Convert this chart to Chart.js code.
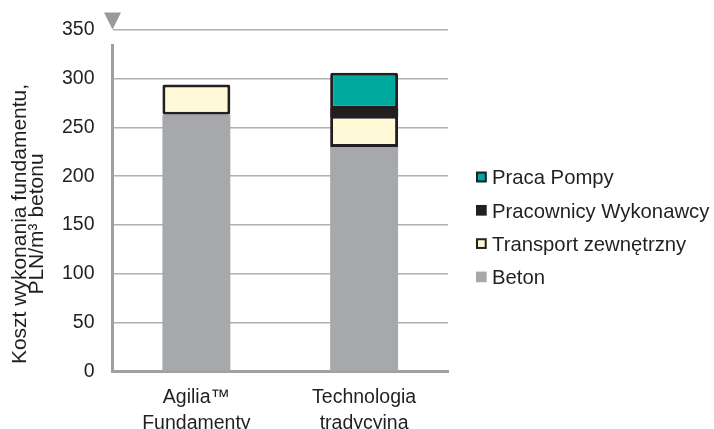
<!DOCTYPE html>
<html lang="pl">
<head>
    <meta charset="UTF-8">
    <title>Koszt wykonania fundamentu</title>
    <script src="https://cdn.jsdelivr.net/npm/chart.js"></script>
    <style>
        html, body {
            margin: 0;
            padding: 0;
            background: #fff;
        }
        #chart-container {
            width: 714px;
            height: 429px;
        }
    </style>
</head>
<body>

    <div id="chart-container">
        <canvas id="kosztChart"></canvas>
    </div>

    <script>
        // Dane
        const kategorie = [['Agilia™', 'Fundamenty'], ['Technologia', 'tradycyjna']];
        const beton = [263, 230];
        const transport = [31, 32];
        const pracownicy = [null, 7];
        const pompa = [null, 37];
        const tytulOsiY = ['Koszt wykonania fundamentu,', 'PLN/m³ betonu'];

        const FONT = "'Liberation Sans', Arial, sans-serif";
        const TEXT = '#231f20';
        const OBRYS = '#231f20';

        // legenda, tytul osi Y i os Y z trojkatem rysowane recznie
        const dodatki = {
            id: 'dodatki',
            afterDraw(chart) {
                const ctx = chart.ctx;
                const area = chart.chartArea;
                ctx.save();

                // os Y
                ctx.strokeStyle = '#a0a0a1';
                ctx.lineWidth = 3;
                ctx.beginPath();
                ctx.moveTo(area.left, 44);
                ctx.lineTo(area.left, area.bottom);
                ctx.stroke();

                // trojkat na gorze osi
                ctx.fillStyle = '#9a9a9c';
                ctx.beginPath();
                ctx.moveTo(area.left - 8.5, 12.5);
                ctx.lineTo(area.left + 8.5, 12.5);
                ctx.lineTo(area.left, 29.5);
                ctx.closePath();
                ctx.fill();

                // tytul osi Y
                ctx.fillStyle = TEXT;
                ctx.font = '21px ' + FONT;
                ctx.textAlign = 'center';
                ctx.textBaseline = 'alphabetic';
                const bazy = [26, 42.5];
                tytulOsiY.forEach((t, i) => {
                    ctx.save();
                    ctx.translate(bazy[i], 224);
                    ctx.rotate(-Math.PI / 2);
                    ctx.fillText(t, 0, 0);
                    ctx.restore();
                });

                // legenda (odwrocona kolejnosc)
                const zestawy = chart.data.datasets.slice().reverse();
                ctx.font = '20.3px ' + FONT;
                ctx.textAlign = 'left';
                zestawy.forEach((ds, i) => {
                    const cy = 177 + i * 33.3;
                    const x = 476, s = 10.7;
                    ctx.fillStyle = ds.backgroundColor;
                    ctx.fillRect(x, cy - s / 2, s, s);
                    if (ds.borderWidth) {
                        ctx.strokeStyle = ds.borderColor;
                        ctx.lineWidth = 2;
                        ctx.strokeRect(x + 1, cy - s / 2 + 1, s - 2, s - 2);
                    }
                    ctx.fillStyle = TEXT;
                    ctx.fillText(ds.label, 492, cy + 7.2);
                });

                ctx.restore();
            }
        };

        const ctx = document.getElementById('kosztChart').getContext('2d');

        new Chart(ctx, {
            type: 'bar',
            data: {
                labels: kategorie,
                datasets: [{
                    label: 'Beton',
                    data: beton,
                    backgroundColor: '#a7a8ac',
                    borderWidth: 0
                }, {
                    label: 'Transport zewnętrzny',
                    data: transport,
                    backgroundColor: '#fff9d7',
                    borderColor: OBRYS,
                    borderWidth: 3,
                    borderRadius: 2,
                    borderSkipped: false
                }, {
                    label: 'Pracownicy Wykonawcy',
                    data: pracownicy,
                    backgroundColor: '#231f20',
                    borderWidth: 0,
                    // pogrubienie zakrywa szczeliny miedzy sasiednimi slupkami
                    inflateAmount: 1.2,
                    barPercentage: 0.782
                }, {
                    label: 'Praca Pompy',
                    data: pompa,
                    backgroundColor: '#00a99d',
                    borderColor: OBRYS,
                    borderWidth: 3,
                    borderRadius: 2,
                    borderSkipped: false
                }]
            },
            options: {
                responsive: true,
                maintainAspectRatio: false,
                animation: false,
                layout: {
                    padding: { left: 0, right: 266, top: 29, bottom: 0 }
                },
                datasets: {
                    bar: { barPercentage: 0.81, categoryPercentage: 0.5 }
                },
                plugins: {
                    legend: { display: false },
                    tooltip: { enabled: false }
                },
                scales: {
                    x: {
                        stacked: true,
                        grid: { display: false, drawTicks: false },
                        border: { display: true, color: '#a0a0a1', width: 3 },
                        ticks: {
                            color: TEXT,
                            padding: 13,
                            maxRotation: 0,
                            autoSkip: false,
                            font: { family: FONT, size: 19.5, lineHeight: 1.35 }
                        },
                        afterFit(scale) { scale.height = 57.5; }
                    },
                    y: {
                        stacked: true,
                        min: 0,
                        max: 350,
                        grid: { color: '#b0b0b0', lineWidth: 1.5, drawTicks: false },
                        border: { display: false },
                        ticks: {
                            stepSize: 50,
                            color: TEXT,
                            padding: 18,
                            font: { family: FONT, size: 19.5 }
                        },
                        afterFit(scale) { scale.width = 112.5; }
                    }
                }
            },
            plugins: [dodatki]
        });
    </script>
</body>
</html>
